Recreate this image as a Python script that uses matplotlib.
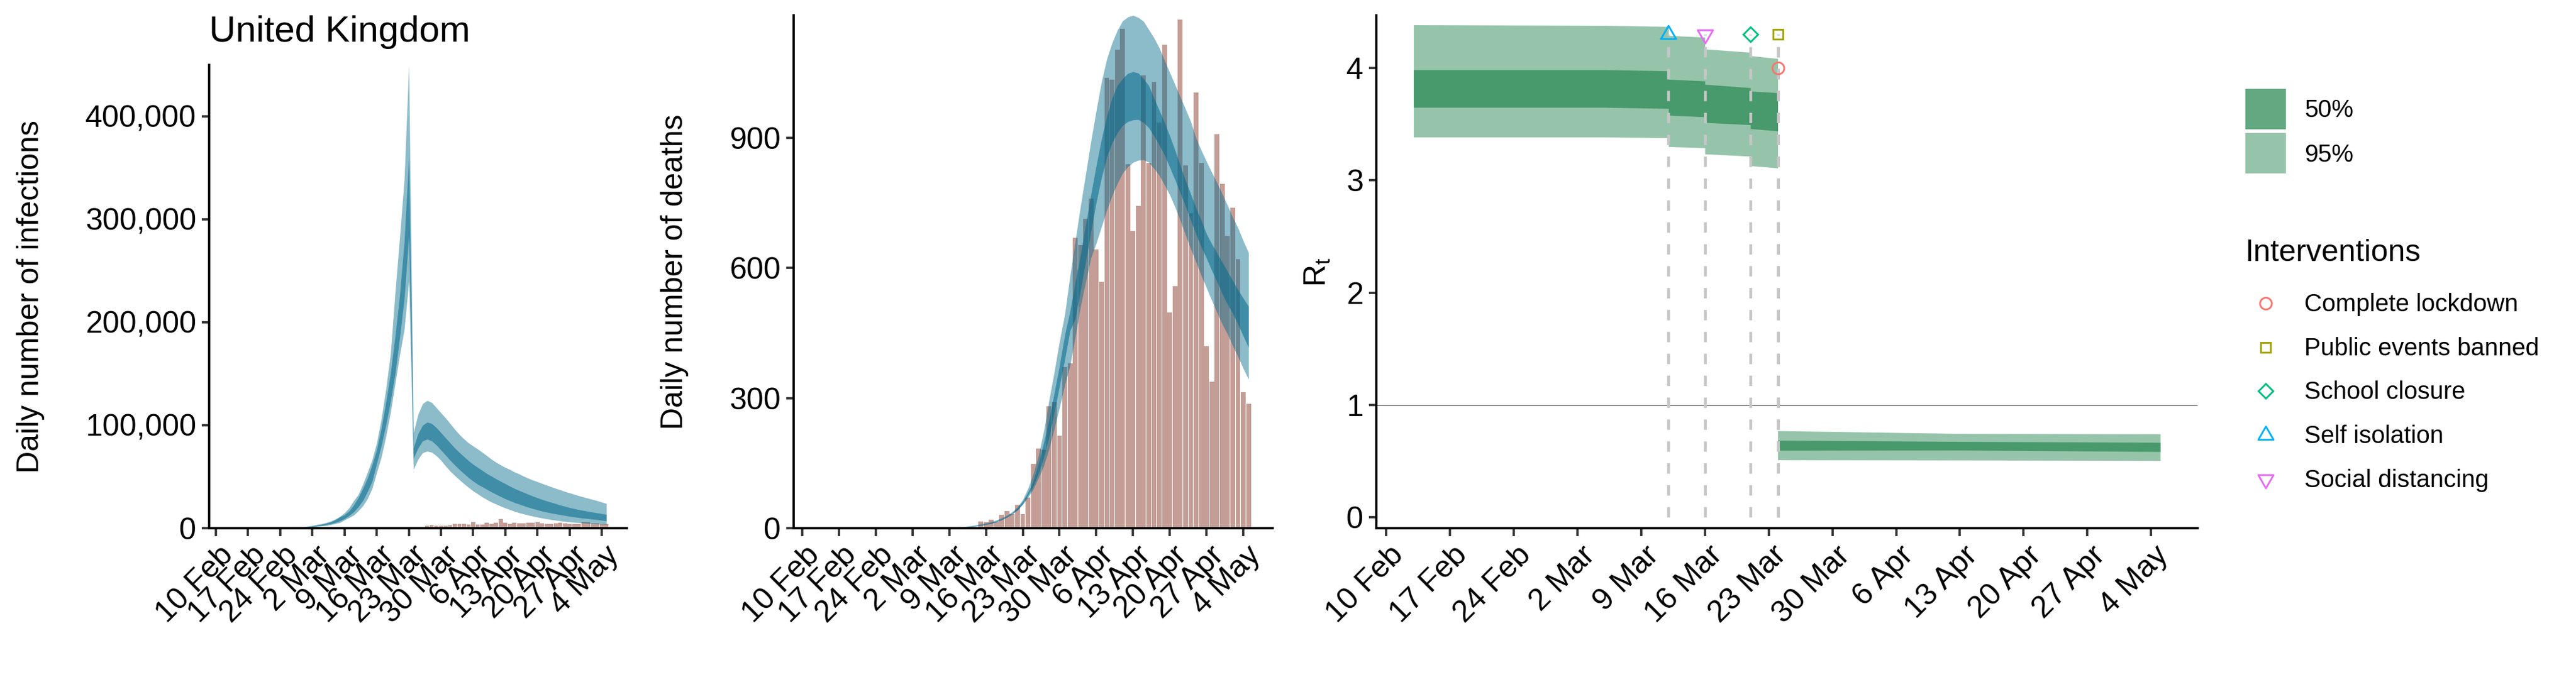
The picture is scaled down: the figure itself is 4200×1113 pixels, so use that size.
import matplotlib
matplotlib.use('Agg')
import matplotlib.pyplot as plt
from matplotlib.patches import Rectangle
from matplotlib.markers import MarkerStyle
from matplotlib.path import Path
from matplotlib.transforms import ScaledTranslation
import pandas as pd

plt.rcParams['font.family'] = ['Liberation Sans', 'DejaVu Sans']
plt.rcParams['mathtext.fontset'] = 'custom'
plt.rcParams['mathtext.rm'] = 'Liberation Sans'

# --- data ---
tick_dates = pd.to_datetime(['2020-02-10', '2020-02-17', '2020-02-24', '2020-03-02', '2020-03-09',
                             '2020-03-16', '2020-03-23', '2020-03-30', '2020-04-06', '2020-04-13',
                             '2020-04-20', '2020-04-27', '2020-05-04'])
tick_labels = ['10 Feb', '17 Feb', '24 Feb', '2 Mar', '9 Mar', '16 Mar', '23 Mar', '30 Mar',
               '6 Apr', '13 Apr', '20 Apr', '27 Apr', '4 May']

# model days, 13 Feb to 5 May
dates = pd.date_range('2020-02-13', '2020-05-05')

# daily infections
inf_u95 = [0, 0, 0, 20, 40, 60, 80, 100, 130, 160, 190,
           200, 300, 400, 1000, 1200, 1600, 2000, 2600, 3600, 4400, 5500, 6900, 8900, 11500, 15000,
           19800, 26700, 32700, 42800, 54400, 66500, 83000, 106000, 135000, 169000, 228000, 282000, 339000, 450000,
           92700, 110500, 121000, 124000, 122000, 117000, 112000, 107000, 101600, 96000, 91000, 86700, 82800, 79800,
           76800, 73700, 70300, 66900, 64000, 61400, 59000, 57000, 54600, 52700, 50500, 48500, 46700, 45100,
           43400, 41800, 40200, 38600, 37200, 35600, 34300, 32900, 31500, 30300, 29100, 27900, 26700, 25300, 24000]
inf_u50 = [0, 0, 0, 10, 20, 30, 40, 60, 80, 100, 130,
           150, 220, 350, 600, 1000, 1200, 1600, 2200, 2800, 3600, 4700, 6100, 8100, 10900, 13000,
           16600, 22400, 29700, 38600, 48500, 61400, 76000, 97000, 122000, 150000, 186000, 226000, 278000, 360000,
           78000, 91700, 100000, 103000, 101600, 97600, 92700, 87700, 82800, 77800, 73500, 69500, 65500, 62000,
           59000, 56000, 53000, 50500, 47900, 45500, 43200, 40800, 38600, 36600, 34800, 32900, 31100, 29500,
           27900, 26500, 25100, 23800, 22400, 21200, 20000, 19000, 18000, 17200, 16400, 15600, 14900, 14100, 13300]
inf_l50 = [0, 0, 0, 5, 10, 20, 30, 40, 50, 70, 90,
           100, 150, 250, 450, 800, 1000, 1200, 1600, 2000, 2600, 3400, 4200, 5500, 7100, 9300,
           12300, 15800, 20800, 26900, 35600, 45500, 63000, 80000, 100000, 123000, 150000, 185000, 223000, 284000,
           68000, 77800, 84700, 86500, 84700, 80800, 75800, 70900, 65900, 61400, 57000, 53000, 49100, 45700,
           42600, 40200, 37600, 35200, 32900, 30700, 28500, 26700, 24900, 23400, 21800, 20400, 19000, 17800,
           16600, 15600, 14700, 13900, 13100, 12300, 11500, 10900, 10300, 9700, 9300, 8700, 8300, 7700, 7100]
inf_l95 = [0, 0, 0, 2, 5, 10, 15, 20, 30, 40, 60,
           70, 100, 180, 300, 600, 800, 1000, 1200, 1600, 2000, 2600, 3400, 4400, 5500, 8100,
           10300, 12700, 16800, 21800, 28700, 38600, 54000, 69000, 89000, 112000, 140000, 168000, 193000, 240000,
           57000, 66900, 73300, 74800, 73700, 70300, 65900, 60400, 55400, 51100, 47100, 43200, 39600, 36200,
           33300, 30300, 27700, 25300, 23400, 21400, 19600, 18000, 16400, 15000, 13900, 12700, 11700, 10700,
           9900, 9100, 8300, 7700, 7100, 6500, 6100, 5700, 5300, 5000, 4600, 4400, 4200, 4000, 3800]

# reported cases, 27 Mar to 5 May
case_dates = pd.date_range('2020-03-27', '2020-05-05')
cases = [2200, 2800, 2200, 2200, 2200, 2800, 4000, 4000, 4000, 3400, 5700, 3400, 3400, 5100, 4000, 5100, 8700,
         5100, 4000, 5100, 4600, 4600, 5100, 5100, 5700, 4600, 4000, 4000, 4600, 5100, 4600, 4000, 4000, 4000,
         5700, 5700, 4600, 4600, 4000, 4000]

# daily deaths
dth_u95 = [0, 0, 0, 0, 0, 0, 0, 0, 0, 0, 0, 0, 0, 0, 0, 0, 0, 0.1, 0.1, 0.2, 0.3, 0.4, 0.5, 0.7, 1, 1.5, 2, 3, 4,
           5.5, 7, 10, 12, 15, 19, 24, 30, 38, 49, 66, 92, 125, 168, 224, 295, 360, 431, 493, 582, 662, 742, 817,
           893, 963, 1029, 1081, 1118, 1147, 1169, 1178, 1182, 1177, 1168, 1149, 1130, 1107, 1078, 1050, 1022, 994,
           966, 937, 899, 871, 845, 820, 796, 770, 744, 716, 692, 662, 635]
dth_u50 = [0, 0, 0, 0, 0, 0, 0, 0, 0, 0, 0, 0, 0, 0, 0, 0, 0, 0.1, 0.1, 0.2, 0.2, 0.3, 0.4, 0.6, 0.8, 1.2, 1.7, 2.4, 3.2,
           4.4, 6, 7.7, 10, 13, 17, 21, 28, 35, 47, 62, 83, 109, 149, 198, 250, 311, 375, 445, 500, 568, 630, 700,
           770, 836, 897, 949, 991, 1020, 1036, 1048, 1052, 1049, 1036, 1020, 991, 963, 935, 904, 871, 836,
           801, 770, 738, 709, 678, 655, 634, 613, 592, 570, 549, 530, 511]
dth_l50 = [0, 0, 0, 0, 0, 0, 0, 0, 0, 0, 0, 0, 0, 0, 0, 0, 0, 0, 0.1, 0.1, 0.2, 0.3, 0.3, 0.5, 0.7, 1, 1.4, 2, 2.8,
           3.7, 5, 6.7, 9, 11, 15, 20, 26, 34, 42, 56, 76, 97, 127, 163, 210, 267, 328, 389, 455, 483, 549, 615,
           685, 751, 808, 855, 888, 911, 928, 937, 941, 942, 935, 923, 904, 883, 860, 832, 803, 773,
           742, 709, 678, 648, 622, 594, 568, 540, 516, 495, 470, 443, 416]
dth_l95 = [0, 0, 0, 0, 0, 0, 0, 0, 0, 0, 0, 0, 0, 0, 0, 0, 0, 0, 0.1, 0.1, 0.1, 0.2, 0.3, 0.4, 0.6, 0.8, 1.1, 1.6, 2.2,
           3, 4, 6, 8, 11, 14, 19, 25, 32, 42, 55, 71, 90, 116, 144, 182, 229, 278, 330, 375, 441, 511, 568,
           624, 657, 695, 733, 766, 794, 818, 833, 843, 848, 849, 843, 829, 813, 791, 768, 740, 709,
           676, 643, 613, 582, 554, 525, 497, 470, 447, 420, 395, 368, 343]

# reported deaths, 15 Mar to 5 May
death_dates = pd.date_range('2020-03-15', '2020-05-05')
deaths = [16, 14, 20, 14, 31, 39, 33, 54, 33, 71, 148, 184, 181, 281, 291, 213, 372, 380, 669, 652, 713, 760, 642,
          568, 1038, 1034, 1103, 1151, 839, 685, 743, 1044, 842, 1028, 935, 1114, 497, 558, 1172, 836, 726, 1004,
          842, 420, 338, 908, 794, 674, 739, 620, 314, 287]

# Rt, before the lockdown (steps on the intervention dates) and after it
rt_dates_a = pd.to_datetime(['2020-02-13', '2020-03-05', '2020-03-12', '2020-03-12', '2020-03-16', '2020-03-16',
                             '2020-03-21', '2020-03-21', '2020-03-24'])
rt_u95_a = [4.385, 4.38, 4.37, 4.29, 4.275, 4.17, 4.14, 4.11, 4.085]
rt_u50_a = [3.985, 3.985, 3.975, 3.90, 3.885, 3.855, 3.825, 3.795, 3.78]
rt_l50_a = [3.65, 3.65, 3.64, 3.58, 3.565, 3.515, 3.495, 3.46, 3.44]
rt_l95_a = [3.385, 3.385, 3.38, 3.30, 3.29, 3.235, 3.215, 3.13, 3.11]
rt_dates_b = pd.to_datetime(['2020-03-24', '2020-04-13', '2020-05-05'])
rt_u95_b = [0.77, 0.745, 0.742]
rt_u50_b = [0.685, 0.674, 0.666]
rt_l50_b = [0.595, 0.597, 0.584]
rt_l95_b = [0.51, 0.508, 0.504]

# interventions
iv_names = ['Complete lockdown', 'Public events banned', 'School closure', 'Self isolation', 'Social distancing']
iv_dates = pd.to_datetime(['2020-03-24', '2020-03-24', '2020-03-21', '2020-03-12', '2020-03-16'])
iv_y = [4.0, 4.3, 4.3, 4.3, 4.3]
iv_colors = ['#F8766D', '#A3A500', '#00BF7D', '#00B0F6', '#E76BF3']

# triangles are centred on their centroid as in R
tri_up = Path([(-1, -0.577), (1, -0.577), (0, 1.155), (-1, -0.577)], closed=True)
tri_down = Path([(-1, 0.577), (1, 0.577), (0, -1.155), (-1, 0.577)], closed=True)
iv_markers = ['o', 's', 'D', tri_up, tri_down]
iv_sizes = [4.6, 4.0, 4.2, 6.9, 6.9]

blue = '#00688B'
coral = '#8B3E2F'
green = '#2E8B57'
W, H = 4200, 1113


def make_axes(left, right, top, bottom):
    return fig.add_axes([left / W, 1 - bottom / H, (right - left) / W, (bottom - top) / H])


def style_axes(ax, xlim, yticks, ylabels, ylabel, label_x):
    t0 = tick_dates[0]
    ax.set_xlim(t0 + pd.Timedelta(days=xlim[0]), t0 + pd.Timedelta(days=xlim[1]))
    ax.set_xticks(tick_dates, tick_labels, rotation=45, ha='right', va='top', rotation_mode='anchor')
    ax.set_yticks(yticks, ylabels)
    ax.spines['top'].set_visible(False)
    ax.spines['right'].set_visible(False)
    ax.spines['left'].set_linewidth(0.9)
    ax.spines['bottom'].set_linewidth(0.9)
    ax.tick_params(axis='both', length=3, width=0.9, color='#333333', labelsize=12, labelcolor='black', pad=2)
    # nudge the slanted labels a little to the right of the ticks
    shift = ScaledTranslation(1.2 / 72, 0, fig.dpi_scale_trans)
    for lab in ax.get_xticklabels():
        lab.set_transform(lab.get_transform() + shift)
    ax.set_ylabel(ylabel, fontsize=12, va='center')
    ax.yaxis.set_label_coords(label_x, 0.5)


def ribbon(ax, x, u95, u50, l50, l95, color, a95, a50):
    ax.fill_between(x, l95, u95, color=color, alpha=a95, lw=0)
    ax.fill_between(x, l50, u50, color=color, alpha=a50, lw=0)


fig = plt.figure(figsize=(14, 3.71), dpi=300)

# infections
ax1 = make_axes(341, 1022, 106, 862)
ax1.bar(case_dates, cases, width=0.92, color=coral, alpha=0.5, lw=0)
ribbon(ax1, dates, inf_u95, inf_u50, inf_l50, inf_l95, blue, 0.45, 0.55)
ax1.set_ylim(0, 450000)
y1 = [0, 100000, 200000, 300000, 400000]
style_axes(ax1, (-1.47, 89.45), y1, [f'{v:,}' for v in y1], 'Daily number of infections', -0.428)
ax1.set_title('United Kingdom', loc='left', fontsize=14.4, pad=9)

# deaths
ax2 = make_axes(1294, 2075, 25, 862)
ax2.bar(death_dates, deaths, width=0.92, color=coral, alpha=0.5, lw=0)
ribbon(ax2, dates, dth_u95, dth_u50, dth_l50, dth_l95, blue, 0.45, 0.55)
ax2.set_ylim(0, 1182)
y2 = [0, 300, 600, 900]
style_axes(ax2, (-1.64, 89.6), y2, [str(v) for v in y2], 'Daily number of deaths', -0.249)

# Rt
ax3 = make_axes(2244, 3583, 25, 862)
ribbon(ax3, rt_dates_a, rt_u95_a, rt_u50_a, rt_l50_a, rt_l95_a, green, 0.5, 0.75)
ribbon(ax3, rt_dates_b, rt_u95_b, rt_u50_b, rt_l50_b, rt_l95_b, green, 0.5, 0.75)
ax3.axhline(1, color='black', lw=0.2)
ax3.vlines(iv_dates, 0, 4.3, colors='#C6C6C6', lw=1.1, linestyles=(0, (3.7, 4.1)))
for d, y, c, m, s in zip(iv_dates, iv_y, iv_colors, iv_markers, iv_sizes):
    ax3.plot([d], [y], ls='none', marker=MarkerStyle(m), ms=s, mfc='none', mec=c, mew=0.7, clip_on=False)
ax3.set_ylim(-0.098, 4.47)
y3 = [0, 1, 2, 3, 4]
style_axes(ax3, (-1.08, 89.1), y3, [str(v) for v in y3], r'R$_{\mathrm{t}}$', -0.0715)

# legends, drawn in pixel coordinates on a full figure overlay
leg = fig.add_axes([0, 0, 1, 1])
leg.set_xlim(0, W)
leg.set_ylim(H, 0)
leg.axis('off')
leg.add_patch(Rectangle((3661, 145), 66, 66, color=green, alpha=0.75, lw=0))
leg.add_patch(Rectangle((3661, 217), 66, 66, color=green, alpha=0.5, lw=0))
leg.text(3757, 180, '50%', fontsize=9.6, va='center')
leg.text(3757, 253, '95%', fontsize=9.6, va='center')
leg.text(3660, 413, 'Interventions', fontsize=12, va='center')
for name, c, m, s, y in zip(iv_names, iv_colors, iv_markers, iv_sizes, [495, 566.5, 638, 710, 782]):
    leg.plot([3694], [y], ls='none', marker=MarkerStyle(m), ms=s, mfc='none', mec=c, mew=0.7)
    leg.text(3757, y + 2, name, fontsize=9.6, va='center')

fig.savefig('out.png', dpi=300)
